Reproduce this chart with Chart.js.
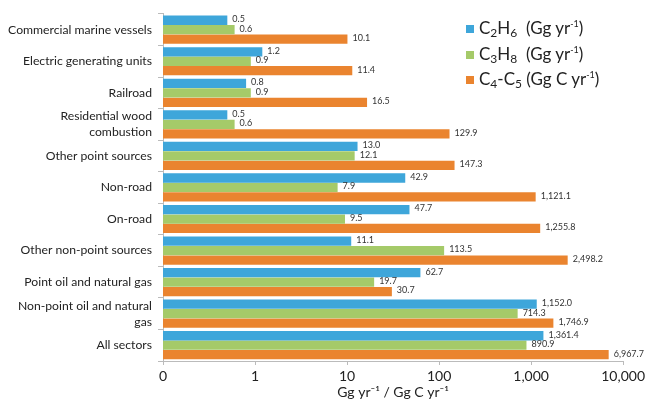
<!DOCTYPE html>
<html>
<head>
<meta charset="utf-8">
<script src="https://cdn.jsdelivr.net/npm/chart.js@4/dist/chart.umd.min.js"></script>
<style>
  html, body { margin: 0; padding: 0; background: #fff; }
  #wrap { position: relative; width: 648px; height: 404px; }
  #legend { position: absolute; left: 466px; top: 15px; font-family: Lato, sans-serif; font-size: 17px; color: #222; }
  #legend div { height: 25.5px; line-height: 25px; white-space: nowrap; }
  #legend span.sw { display: inline-block; width: 8px; height: 8px; margin-right: 5px; vertical-align: 1px; }
  #legend sub { font-size: 12px; vertical-align: -3px; line-height: 0; }
  #legend sup { font-size: 9px; vertical-align: 7px; line-height: 0; }
</style>
</head>
<body>
<div id="wrap">
  <canvas id="c" width="648" height="404"></canvas>
  <div id="legend">
    <div><span class="sw" style="background:#3ea6da"></span>C<sub>2</sub>H<sub>6</sub>&nbsp; (Gg yr<sup>-1</sup>)</div>
    <div><span class="sw" style="background:#a5ca69"></span>C<sub>3</sub>H<sub>8</sub>&nbsp; (Gg yr<sup>-1</sup>)</div>
    <div><span class="sw" style="background:#ea842f"></span>C<sub>4</sub>-C<sub>5</sub> (Gg C yr<sup>-1</sup>)</div>
  </div>
</div>
<script>
const categories = [
  "Commercial marine vessels",
  "Electric generating units",
  "Railroad",
  ["Residential wood", "combustion"],
  "Other point sources",
  "Non-road",
  "On-road",
  "Other non-point sources",
  "Point oil and natural gas",
  ["Non-point oil and natural", "gas"],
  "All sectors"
];
const ethane = [0.5, 1.2, 0.8, 0.5, 13.0, 42.9, 47.7, 11.1, 62.7, 1152.0, 1361.4];
const propane = [0.6, 0.9, 0.9, 0.6, 12.1, 7.9, 9.5, 113.5, 19.7, 714.3, 890.9];
const butanePentane = [10.1, 11.4, 16.5, 129.9, 147.3, 1121.1, 1255.8, 2498.2, 30.7, 1746.9, 6967.7];
const xTicks = [0.1, 1, 10, 100, 1000, 10000];

const fmt = v => v.toLocaleString("en-US", { minimumFractionDigits: 1, maximumFractionDigits: 1 });

// little value labels at the end of each bar
const barLabels = {
  id: "barLabels",
  afterDatasetsDraw(chart) {
    const ctx = chart.ctx;
    ctx.save();
    ctx.font = "9px Lato, sans-serif";
    ctx.fillStyle = "#333";
    ctx.textBaseline = "middle";
    chart.data.datasets.forEach((ds, i) => {
      chart.getDatasetMeta(i).data.forEach((bar, j) => {
        ctx.fillText(fmt(ds.data[j]), bar.x + 5, bar.y - 1);
      });
    });
    ctx.restore();
  }
};

new Chart(document.getElementById("c"), {
  type: "bar",
  data: {
    labels: categories,
    datasets: [
      { label: "C2H6", data: ethane, backgroundColor: "#3ea6da" },
      { label: "C3H8", data: propane, backgroundColor: "#a5ca69" },
      { label: "C4-C5", data: butanePentane, backgroundColor: "#ea842f" }
    ]
  },
  options: {
    indexAxis: "y",
    responsive: false,
    animation: false,
    devicePixelRatio: 1,
    layout: { padding: { top: 9, right: 24, left: 0, bottom: 3 } },
    datasets: { bar: { categoryPercentage: 0.9, barPercentage: 0.98 } },
    plugins: { legend: { display: false }, tooltip: { enabled: false } },
    scales: {
      x: {
        type: "logarithmic",
        min: 0.1,
        max: 10000,
        afterBuildTicks: axis => { axis.ticks = xTicks.map(v => ({ value: v })); },
        afterFit: axis => { axis.height = 40; },
        ticks: {
          color: "#222",
          font: { family: "Lato, sans-serif", size: 14 },
          padding: 3,
          maxRotation: 0,
          callback: v => v === 0.1 ? "0" : v.toLocaleString("en-US")
        },
        grid: { drawOnChartArea: false, tickLength: 4, color: "#bbb" },
        border: { color: "#bbb" },
        title: {
          display: true,
          text: "Gg yr⁻¹ / Gg C yr⁻¹",
          color: "#222",
          font: { family: "Lato, sans-serif", size: 14 },
          padding: { top: 0, bottom: 0 }
        }
      },
      y: {
        afterFit: axis => { axis.width = 163; },
        ticks: {
          color: "#222",
          autoSkip: false,
          font: { family: "Lato, sans-serif", size: 12.2, lineHeight: 1.3 },
          padding: 6
        },
        grid: { drawOnChartArea: false, tickLength: 5, color: "#bbb" },
        border: { color: "#bbb" }
      }
    }
  },
  plugins: [barLabels]
});
</script>
</body>
</html>
